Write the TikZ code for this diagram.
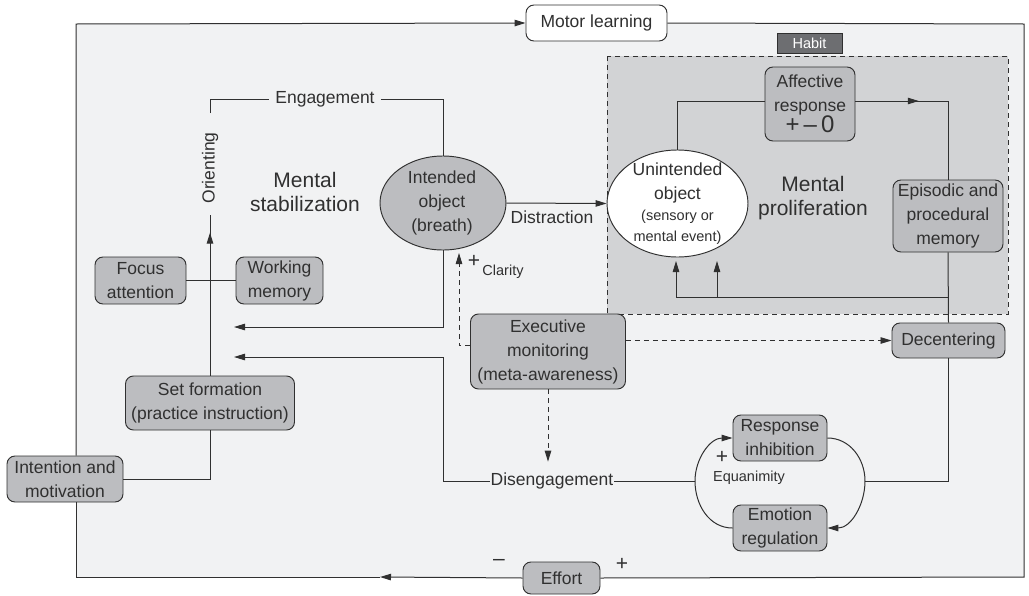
\documentclass[tikz,border=0pt]{standalone}
\usepackage{fontspec}
\setmainfont{Liberation Sans}
\usetikzlibrary{arrows.meta,shapes.geometric,decorations.markings}

\definecolor{framefill}{HTML}{F1F2F3}
\definecolor{habitfill}{HTML}{D2D3D5}
\definecolor{boxfill}{HTML}{BCBDC0}
\definecolor{tabfill}{HTML}{6D6E71}
\definecolor{ink}{HTML}{303030}

\newcommand{\mainfs}{\fontsize{17.5}{24}\selectfont}
\newcommand{\smallfs}{\fontsize{14.5}{21}\selectfont}
\newcommand{\bigfs}{\fontsize{21}{24}\selectfont}
\newcommand{\signfs}{\fontsize{21}{21}\selectfont}

\tikzset{
  box/.style={draw=ink, fill=boxfill, rounded corners=8pt, align=center,
    font=\mainfs, text=ink, inner sep=0pt, line width=0.95pt},
  oval/.style={ellipse, draw=ink, fill=boxfill, inner sep=0pt, line width=0.95pt},
  lbl/.style={font=\mainfs, text=ink, inner sep=1pt, align=center},
  wire/.style={draw=ink, line width=1pt},
  arr/.style={wire, -{Triangle[length=11pt,width=6.5pt]}},
  dashline/.style={wire, line width=0.9pt, dash pattern=on 5pt off 4pt},
  darr/.style={dashline, -{Triangle[length=11pt,width=6.5pt]}},
  arrat/.style={decoration={markings,
    mark=at position #1 with {\arrow{Triangle[length=11pt,width=6.5pt]}}},
    postaction={decorate}}
}

\begin{document}
\begin{tikzpicture}[x=1pt, y=-1pt]
\useasboundingbox (0,0) rectangle (1029,595);

\fill[framefill] (76,24) rectangle (1024,577);
\draw[dashline, fill=habitfill] (607,56) rectangle (1008,314);

\coordinate (tl) at (76,24);
\coordinate (tr) at (1024,24);
\coordinate (br) at (1024,577);
\coordinate (bl) at (76,577);
\coordinate (botarr) at (380,577);
\coordinate (ortop) at (210,113);
\coordinate (orbot) at (210,215);
\coordinate (stabin1) at (234,327);
\coordinate (stabin2) at (234,357);
\coordinate (lloop) at (695,481);
\coordinate (rloop) at (865,481);
\coordinate (clar) at (459,253);
\coordinate (fbk) at (948,297);
\coordinate (lobj1) at (676,261);
\coordinate (lobj2) at (717,261);

\node[box, fill=white, minimum width=141pt, minimum height=36pt] (motor) at (596.5,23) {Motor learning};
\node[box, fill=tabfill, rounded corners=0pt, text=white, font=\smallfs,
  minimum width=65pt, minimum height=20pt] (habit) at (809.5,43) {Habit};
\node[box, minimum width=90pt, minimum height=74pt] (affect) at (810,104)
  {Affective\\response\\[-3pt]{\fontsize{24}{24}\selectfont +\,–\,0}};
\node[oval, fill=white, minimum width=141pt, minimum height=107pt] (unint) at (677.5,203.5) {};
\node[lbl] (unintText) at (677.5,204)
  {Unintended\\object\\[-3pt]{\smallfs (sensory or}\\[-3pt]{\smallfs mental event)}};
\node[box, minimum width=110pt, minimum height=72pt] (episod) at (948,216) {Episodic and\\procedural\\memory};
\node[box, minimum width=113pt, minimum height=35pt] (decent) at (948.5,340.5) {Decentering};
\node[box, minimum width=94pt, minimum height=46pt] (resp) at (780,438) {Response\\inhibition};
\node[box, minimum width=94pt, minimum height=46pt] (emot) at (780,528) {Emotion\\regulation};
\node[box, minimum width=155pt, minimum height=75pt] (exec) at (548,351.5) {Executive\\monitoring\\(meta-awareness)};
\node[oval, minimum width=126pt, minimum height=94pt] (intobj) at (443,203) {};
\node[lbl] (intobjText) at (442,203) {Intended\\object\\(breath)};
\node[box, minimum width=91pt, minimum height=47pt] (focus) at (140.5,280.5) {Focus\\attention};
\node[box, minimum width=87pt, minimum height=47pt] (work) at (279.5,280.5) {Working\\memory};
\node[box, minimum width=169pt, minimum height=54pt] (setf) at (210,403) {Set formation\\(practice instruction)};
\node[box, minimum width=116pt, minimum height=46pt] (intent) at (65,479) {Intention and\\motivation};
\node[box, minimum width=77pt, minimum height=32pt] (effort) at (561.5,578) {Effort};

\node[lbl, inner xsep=6pt] (engage) at (325,99) {Engagement};
\node[lbl, rotate=90] (orient) at (210,168) {Orienting};
\node[lbl] (disen) at (552,481) {Disengagement};
\node[lbl] (distr) at (552,217) {Distraction};
\node[lbl, font=\bigfs] (mstab) at (305,192) {Mental\\stabilization};
\node[lbl, font=\bigfs] (mprol) at (813,198) {Mental\\proliferation};
\node[lbl, font=\signfs] (plusclar) at (474,261) {+};
\node[lbl, font=\smallfs] (clarity) at (503,272) {Clarity};
\node[lbl, font=\signfs] (plusequ) at (722,457) {+};
\node[lbl, font=\smallfs] (equan) at (749,478) {Equanimity};
\node[lbl, font=\signfs] (minuseff) at (499,562) {–};
\node[lbl, font=\signfs] (pluseff) at (622,564) {+};

\draw[arr] (intent.north -| tl) -- (tl) -- (motor.west);
\draw[wire] (motor.east) -- (tr) -- (br) -- (effort.east);
\draw[arr] (effort.west) -- (botarr);
\draw[wire] (botarr) -- (bl) -- (intent.south -| bl);

\draw[wire] (intent.east) -| (setf.south);
\draw[wire, arrat=0.89] (setf.north) -- (orbot);
\draw[wire] (focus.east) -- (work.west);
\draw[wire] (ortop) |- (engage.west);
\draw[wire] (engage.east) -| (intobj.north);
\draw[arr] (intobj.south) |- (stabin1);
\draw[arr] (disen.west) -| (stabin2 -| intobj.south) -- (stabin2);
\draw[arr] (intobj.east) -- (unint.west);

\draw[wire] (unint.north) |- ([yshift=3pt]affect.west);
\draw[wire, arrat=0.37] ([yshift=3pt]affect.east) -| (episod.north);
\draw[wire] (episod.south) -- (decent.north);
\draw[arr] (fbk) -| (lobj1);
\draw[arr] (lobj2 |- fbk) -- (lobj2);

\draw[wire] (decent.south) |- (rloop);
\draw[arr] (resp.east) to[out=0, in=90] (rloop) to[out=-90, in=0] (emot.east);
\draw[arr] (emot.west) to[out=180, in=-90] (lloop) to[out=90, in=180] (resp.west);
\draw[wire] (disen.east) -- (lloop);

\draw[darr, shorten >=10pt] (exec.south) -- (exec.south |- disen.north);
\draw[darr] (exec.east |- decent.west) -- (decent.west);
\draw[darr] ([yshift=6pt]exec.west) -| (clar);
\end{tikzpicture}
\end{document}
